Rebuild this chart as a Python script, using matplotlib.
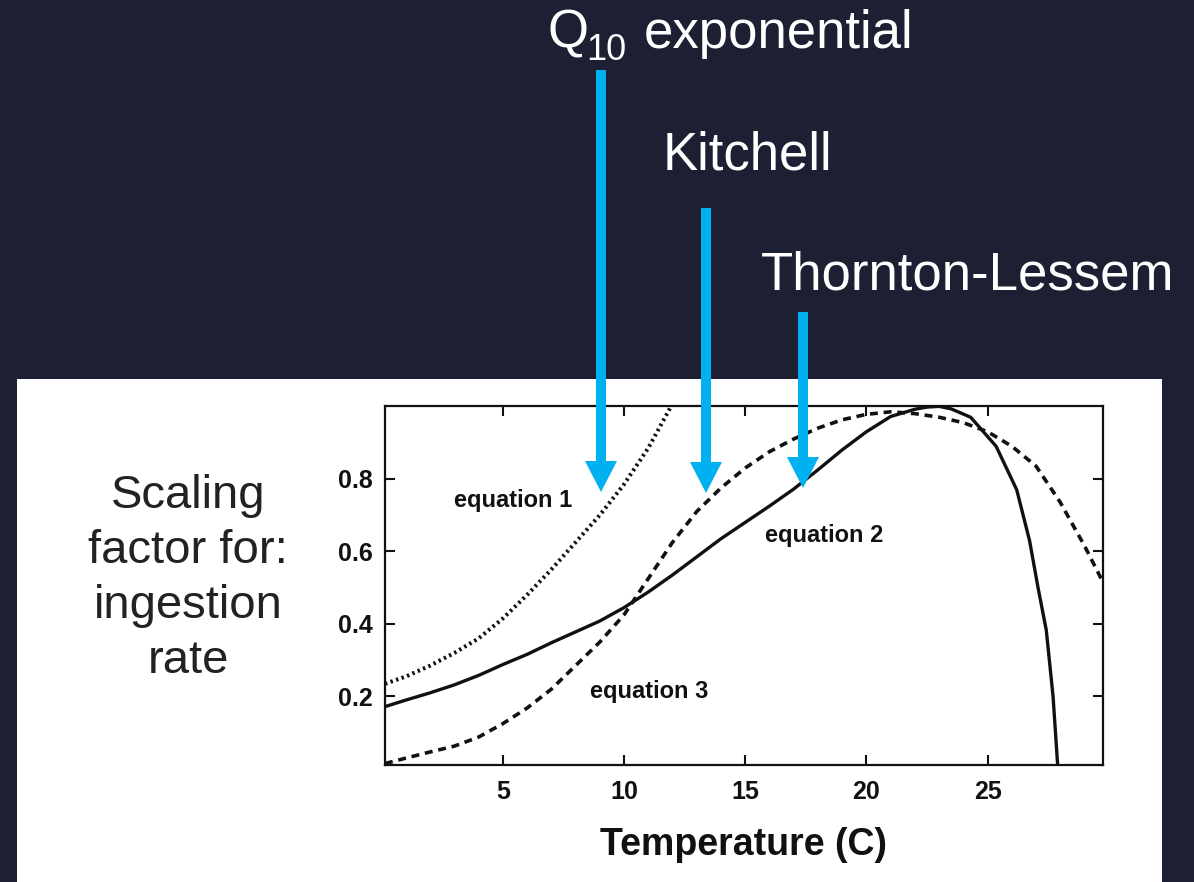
import matplotlib
matplotlib.use("Agg")
import matplotlib.pyplot as plt
from matplotlib.patches import Rectangle, Polygon

# ---------------- data ----------------
temp_eq1 = [0.14, 1, 2, 3, 4, 5, 6, 7, 8, 9, 10, 11, 11.9, 12.1]
scale_eq1 = [0.235, 0.255, 0.285, 0.32, 0.36, 0.415, 0.48, 0.55, 0.625, 0.70, 0.785, 0.885, 0.995, 1.02]

temp_eq2 = [0.14, 1, 2, 3, 4, 5, 6, 7, 8, 9, 10, 11, 12, 13, 14, 15, 16, 17, 18, 19,
            20, 21, 22, 22.5, 23, 23.5, 24.3, 25.35, 26.2, 26.73, 27.08, 27.42, 27.7, 27.9]
scale_eq2 = [0.172, 0.19, 0.21, 0.232, 0.258, 0.288, 0.316, 0.348, 0.378, 0.408, 0.445, 0.488,
             0.535, 0.585, 0.635, 0.68, 0.725, 0.772, 0.825, 0.88, 0.93, 0.972, 0.992, 0.998,
             1.0, 0.993, 0.97, 0.89, 0.77, 0.63, 0.50, 0.383, 0.20, 0.0]

temp_eq3 = [0.14, 1, 2, 3, 4, 5, 6, 7, 8, 9, 10, 11, 12, 13, 14, 15, 16, 17, 18, 19,
            20, 21, 22, 23, 24, 25, 26, 27, 28, 29, 29.76]
scale_eq3 = [0.015, 0.03, 0.047, 0.063, 0.088, 0.125, 0.168, 0.22, 0.285, 0.35, 0.425,
             0.525, 0.625, 0.71, 0.775, 0.83, 0.875, 0.91, 0.94, 0.963, 0.978, 0.985, 0.98,
             0.97, 0.955, 0.93, 0.89, 0.835, 0.735, 0.615, 0.515]

x_ticks = [5, 10, 15, 20, 25]
x_tick_labels = ["5", "10", "15", "20", "25"]
y_ticks = [0.2, 0.4, 0.6, 0.8]
y_tick_labels = ["0.2", "0.4", "0.6", "0.8"]

curve_labels = ["equation 1", "equation 2", "equation 3"]
ylabel_lines = ["Scaling", "factor for:", "ingestion", "rate"]
xlabel = "Temperature (C)"

# ---------------- style ----------------
plt.rcParams["font.family"] = ["Liberation Sans", "DejaVu Sans"]

W, H = 1194, 882
BG = "#1d1f33"
ARROW = "#00b0f0"
INK = "#111111"

fig = plt.figure(figsize=(W / 100, H / 100), dpi=100, facecolor=BG)

# white panel holding the scanned figure
panel = Rectangle((17 / W, 0), (1162 - 17) / W, (H - 379) / H, transform=fig.transFigure,
                  facecolor="white", edgecolor="none", zorder=-1)
fig.add_artist(panel)

ax = fig.add_axes([385 / W, 1 - 765 / H, (1103 - 385) / W, (765 - 406) / H], zorder=1)
ax.set_facecolor("white")
ax.plot(temp_eq1, scale_eq1, color=INK, lw=2.9, linestyle=(0, (0.6, 0.85)), solid_capstyle="butt")
ax.plot(temp_eq2, scale_eq2, color=INK, lw=2.4, solid_joinstyle="round")
ax.plot(temp_eq3, scale_eq3, color=INK, lw=2.6, linestyle=(0, (2.2, 1.6)))
ax.set_xlim(0.14, 29.76)
ax.set_ylim(0.011, 1.001)

ax.set_xticks(x_ticks)
ax.set_xticklabels(x_tick_labels)
ax.set_yticks(y_ticks)
ax.set_yticklabels(y_tick_labels)
ax.tick_params(direction="in", length=7, width=1.5, top=True, right=True,
               labelsize=18, colors=INK)
ax.tick_params(axis="x", pad=10.5)
ax.tick_params(axis="y", pad=9)
for lab in ax.get_xticklabels() + ax.get_yticklabels():
    lab.set_fontweight("bold")
for sp in ax.spines.values():
    sp.set_linewidth(1.6)
    sp.set_color(INK)

fig.text(743 / W, 1 - 855 / H, xlabel, ha="center", va="baseline",
         fontsize=27, fontweight="bold", color=INK)

# overlay in pixel coordinates for annotations
ov = fig.add_axes([0, 0, 1, 1], zorder=3)
ov.set_xlim(0, W)
ov.set_ylim(H, 0)
ov.axis("off")

# equation labels
for txt, (lx, ly) in zip(curve_labels, [(454, 507), (765, 542), (590, 698)]):
    ov.text(lx, ly, txt, ha="left", va="baseline", fontsize=17, fontweight="bold", color=INK)

# y-axis description
for txt, ly in zip(ylabel_lines, [508, 563, 618, 673]):
    ov.text(188, ly, txt, ha="center", va="baseline", fontsize=34, color="#222222")

# model names (Q10 built from pieces to get the low subscript)
ov.text(547, 48, "Q", ha="left", va="baseline", fontsize=38, color="white")
ov.text(586, 60, "10", ha="left", va="baseline", fontsize=26, color="white")
ov.text(644, 48, "exponential", ha="left", va="baseline", fontsize=38, color="white")
ov.text(663, 170, "Kitchell", ha="left", va="baseline", fontsize=38, color="white")
ov.text(761, 290, "Thornton-Lessem", ha="left", va="baseline", fontsize=38, color="white")

# arrows
for x, top, tip in [(601, 70, 492), (706, 208, 493), (803, 312, 488)]:
    hw, hh, hl = 5, 16, 31
    pts = [(x - hw, top), (x + hw, top), (x + hw, tip - hl), (x + hh, tip - hl),
           (x, tip), (x - hh, tip - hl), (x - hw, tip - hl)]
    ov.add_patch(Polygon(pts, closed=True, facecolor=ARROW, edgecolor="none"))

fig.savefig("out.png", dpi=100, facecolor=BG)
